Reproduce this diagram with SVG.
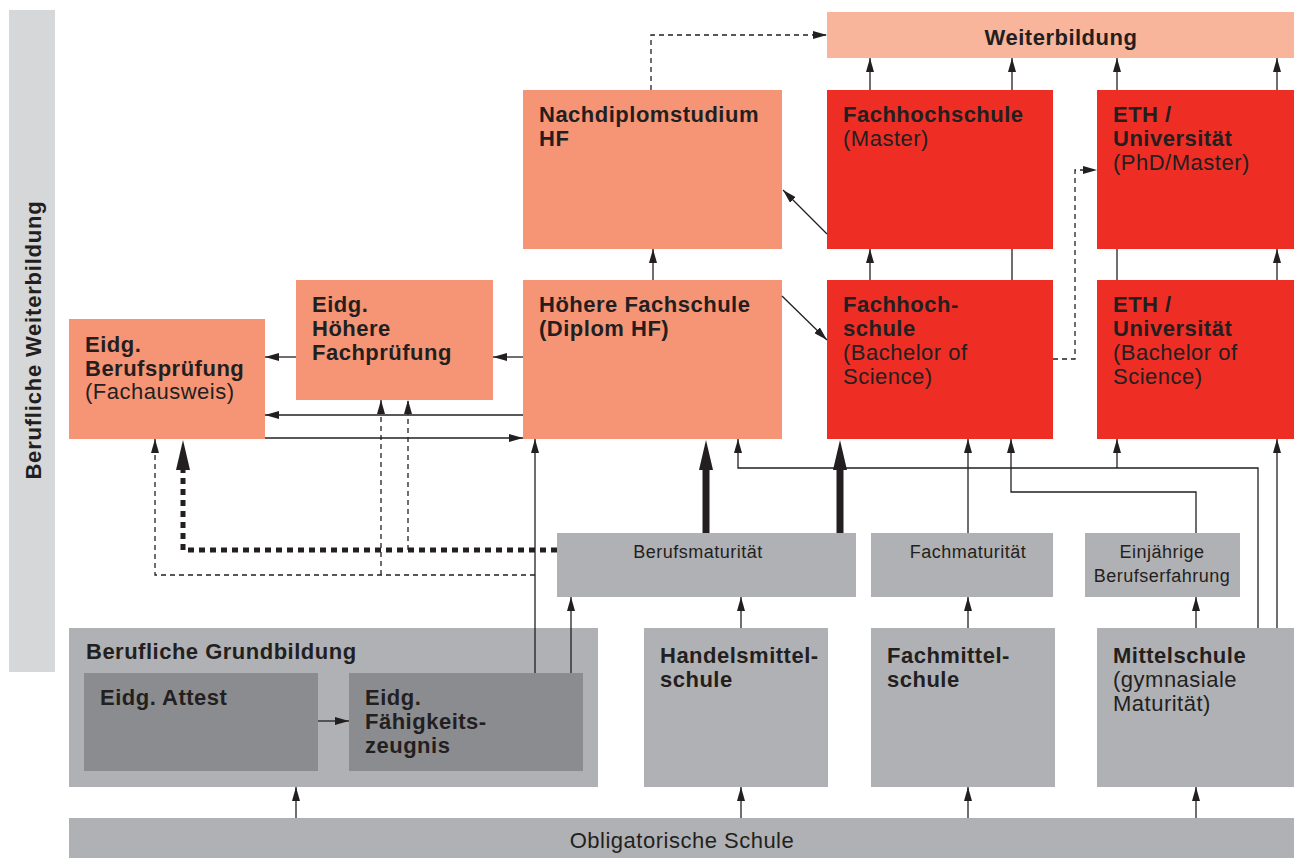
<svg xmlns="http://www.w3.org/2000/svg" width="1294" height="858" viewBox="0 0 1294 858">
<style>
text{font-family:"Liberation Sans",Arial,sans-serif;fill:#231f20;letter-spacing:0.5px}
.b{font-weight:bold;font-size:22px}
.r{font-size:22px}
.s{font-size:18px}
.sal{fill:#f69575}
.red{fill:#ee2d24}
.gry{fill:#b0b1b4}
.dg{fill:#8b8c8f}
.ln{fill:none;stroke:#231f20;stroke-width:1.3}
.ds{fill:none;stroke:#231f20;stroke-width:1.3;stroke-dasharray:5 4}
.thick{fill:none;stroke:#231f20;stroke-width:7}
.dot{fill:none;stroke:#231f20;stroke-width:5;stroke-dasharray:6 5}
</style>
<defs>
<marker id="a" viewBox="0 0 14 8" refX="14" refY="4" markerWidth="14" markerHeight="8" markerUnits="userSpaceOnUse" orient="auto"><path d="M0,0 L14,4 L0,8 z" fill="#231f20"/></marker>
<marker id="A" viewBox="0 0 30 14" refX="1" refY="7" markerWidth="30" markerHeight="14" markerUnits="userSpaceOnUse" orient="auto"><path d="M0,0 L30,7 L0,14 z" fill="#231f20"/></marker>
</defs>

<g id="sidebar">
<rect x="9" y="10" width="46" height="662" fill="#d6d7d9"/>
<text class="b" transform="translate(41,340) rotate(-90)" text-anchor="middle" style="letter-spacing:0.8px">Berufliche Weiterbildung</text>
</g>

<g id="weiterbildung">
<rect x="827" y="12" width="467" height="46" fill="#f8b59b"/>
<text class="b" x="1061" y="45" text-anchor="middle">Weiterbildung</text>
</g>

<g id="nachdiplom">
<rect class="sal" x="523" y="90" width="259" height="159"/>
<text class="b" x="539" y="122">Nachdiplomstudium</text>
<text class="b" x="539" y="146">HF</text>
</g>

<g id="fh-master">
<rect class="red" x="827" y="90" width="226" height="159"/>
<text class="b" x="843" y="122">Fachhochschule</text>
<text class="r" x="843" y="146">(Master)</text>
</g>

<g id="eth-master">
<rect class="red" x="1097" y="90" width="197" height="159"/>
<text class="b" x="1113" y="122">ETH /</text>
<text class="b" x="1113" y="146">Universität</text>
<text class="r" x="1113" y="170">(PhD/Master)</text>
</g>

<g id="hoehere-fachschule">
<rect class="sal" x="523" y="280" width="259" height="159"/>
<text class="b" x="539" y="312">Höhere Fachschule</text>
<text class="b" x="539" y="336">(Diplom HF)</text>
</g>

<g id="fh-bachelor">
<rect class="red" x="827" y="280" width="226" height="159"/>
<text class="b" x="843" y="312">Fachhoch-</text>
<text class="b" x="843" y="336">schule</text>
<text class="r" x="843" y="360">(Bachelor of</text>
<text class="r" x="843" y="384">Science)</text>
</g>

<g id="eth-bachelor">
<rect class="red" x="1097" y="280" width="197" height="159"/>
<text class="b" x="1113" y="312">ETH /</text>
<text class="b" x="1113" y="336">Universität</text>
<text class="r" x="1113" y="360">(Bachelor of</text>
<text class="r" x="1113" y="384">Science)</text>
</g>

<g id="hoehere-fachpruefung">
<rect class="sal" x="296" y="280" width="197" height="120"/>
<text class="b" x="312" y="312">Eidg.</text>
<text class="b" x="312" y="336">Höhere</text>
<text class="b" x="312" y="360">Fachprüfung</text>
</g>

<g id="berufspruefung">
<rect class="sal" x="69" y="319" width="196" height="120"/>
<text class="b" x="85" y="352">Eidg.</text>
<text class="b" x="85" y="376">Berufsprüfung</text>
<text class="r" x="85" y="399">(Fachausweis)</text>
</g>

<g id="berufsmaturitaet">
<rect class="gry" x="557" y="533" width="299" height="64"/>
<text class="s" x="698" y="558" text-anchor="middle">Berufsmaturität</text>
</g>

<g id="fachmaturitaet">
<rect class="gry" x="871" y="533" width="182" height="64"/>
<text class="s" x="968" y="558" text-anchor="middle">Fachmaturität</text>
</g>

<g id="einjaehrige">
<rect class="gry" x="1085" y="533" width="155" height="64"/>
<text class="s" x="1162" y="558" text-anchor="middle">Einjährige</text>
<text class="s" x="1162" y="582" text-anchor="middle">Berufserfahrung</text>
</g>

<g id="grundbildung">
<rect class="gry" x="69" y="628" width="529" height="159"/>
<text class="b" x="86" y="659">Berufliche Grundbildung</text>
</g>

<g id="attest">
<rect class="dg" x="84" y="673" width="234" height="98"/>
<text class="b" x="100" y="705">Eidg. Attest</text>
</g>

<g id="faehigkeitszeugnis">
<rect class="dg" x="349" y="673" width="234" height="98"/>
<text class="b" x="365" y="705">Eidg.</text>
<text class="b" x="365" y="729">Fähigkeits-</text>
<text class="b" x="365" y="753">zeugnis</text>
</g>

<g id="handelsmittelschule">
<rect class="gry" x="644" y="628" width="184" height="159"/>
<text class="b" x="660" y="663">Handelsmittel-</text>
<text class="b" x="660" y="687">schule</text>
</g>

<g id="fachmittelschule">
<rect class="gry" x="871" y="628" width="184" height="159"/>
<text class="b" x="887" y="663">Fachmittel-</text>
<text class="b" x="887" y="687">schule</text>
</g>

<g id="mittelschule">
<rect class="gry" x="1097" y="628" width="197" height="159"/>
<text class="b" x="1113" y="663">Mittelschule</text>
<text class="r" x="1113" y="687">(gymnasiale</text>
<text class="r" x="1113" y="711">Maturität)</text>
</g>

<g id="obligatorische-schule">
<rect class="gry" x="69" y="818" width="1225" height="40"/>
<text class="r" x="682" y="848" text-anchor="middle">Obligatorische Schule</text>
</g>

<g id="connectors">
<path class="ds" d="M651,90 V35 H827" marker-end="url(#a)"/>
<path class="ds" d="M1053,359 H1075 V170 H1097" marker-end="url(#a)"/>
<path class="ds" d="M535,575 H155 V439" marker-end="url(#a)"/>
<path class="ds" d="M381,575 V400" marker-end="url(#a)"/>
<path class="ds" d="M408,550 V400" marker-end="url(#a)"/>
<path class="dot" d="M557,550 H183 V469" marker-end="url(#A)"/>

<path class="ln" d="M870,90 V58" marker-end="url(#a)"/>
<path class="ln" d="M1012,90 V58" marker-end="url(#a)"/>
<path class="ln" d="M1117,90 V58" marker-end="url(#a)"/>
<path class="ln" d="M1277,90 V58" marker-end="url(#a)"/>
<path class="ln" d="M870,280 V249" marker-end="url(#a)"/>
<path class="ln" d="M1012,249 V280"/>
<path class="ln" d="M1117,249 V280"/>
<path class="ln" d="M1277,280 V249" marker-end="url(#a)"/>
<path class="ln" d="M653,280 V249" marker-end="url(#a)"/>
<path class="ln" d="M827,234 L783,190" marker-end="url(#a)"/>
<path class="ln" d="M782,296 L827,340" marker-end="url(#a)"/>
<path class="ln" d="M523,357 H493" marker-end="url(#a)"/>
<path class="ln" d="M296,357 H265" marker-end="url(#a)"/>
<path class="ln" d="M523,415 H265" marker-end="url(#a)"/>
<path class="ln" d="M265,438 H523" marker-end="url(#a)"/>
<path class="ln" d="M535,673 V439" marker-end="url(#a)"/>
<path class="ln" d="M571,673 V597" marker-end="url(#a)"/>
<path class="ln" d="M741,628 V597" marker-end="url(#a)"/>
<path class="ln" d="M968,628 V597" marker-end="url(#a)"/>
<path class="ln" d="M1196,628 V597" marker-end="url(#a)"/>
<path class="ln" d="M968,533 V439" marker-end="url(#a)"/>
<path class="ln" d="M1258,628 V468 H738 V439" marker-end="url(#a)"/>
<path class="ln" d="M1117,468 V439" marker-end="url(#a)"/>
<path class="ln" d="M1196,533 V492 H1011 V439" marker-end="url(#a)"/>
<path class="ln" d="M1277,628 V439" marker-end="url(#a)"/>
<path class="ln" d="M318,721 H349" marker-end="url(#a)"/>
<path class="ln" d="M296,818 V787" marker-end="url(#a)"/>
<path class="ln" d="M741,818 V787" marker-end="url(#a)"/>
<path class="ln" d="M968,818 V787" marker-end="url(#a)"/>
<path class="ln" d="M1196,818 V787" marker-end="url(#a)"/>
<path class="thick" d="M706,533 V469" marker-end="url(#A)"/>
<path class="thick" d="M840,533 V469" marker-end="url(#A)"/>
</g>
</svg>
